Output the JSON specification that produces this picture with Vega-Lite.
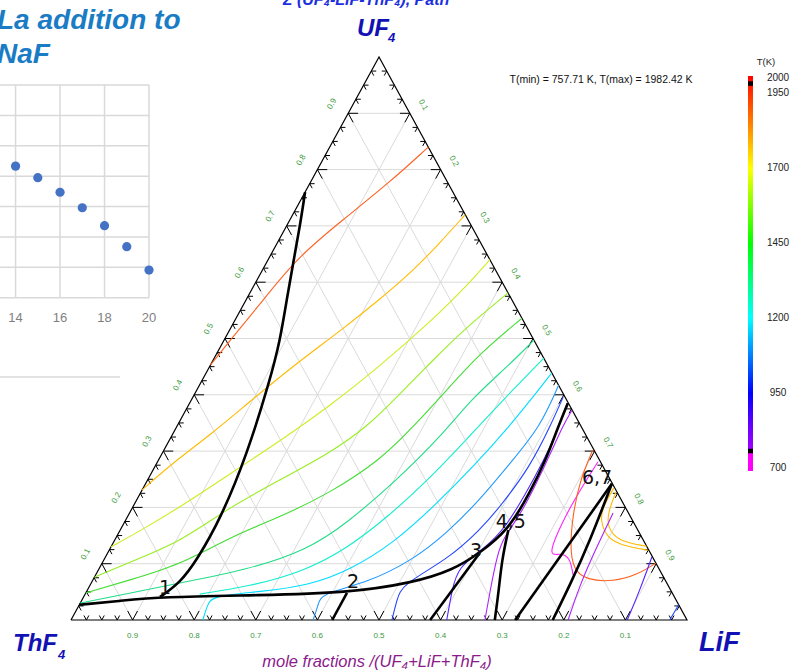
{
  "$schema": "https://vega.github.io/schema/vega-lite/v6.json",
  "width": 792,
  "height": 672,
  "padding": 0,
  "autosize": {"type": "none"},
  "background": "white",
  "config": {"view": {"stroke": null}, "font": "Liberation Sans"},
  "datasets": {
    "grid": [{"v":0.1},{"v":0.2},{"v":0.3},{"v":0.4},{"v":0.5},{"v":0.6},{"v":0.7},{"v":0.8},{"v":0.9}],
    "ticks": [{"v":0.025},{"v":0.05},{"v":0.075},{"v":0.1},{"v":0.125},{"v":0.15},{"v":0.175},{"v":0.2},{"v":0.225},{"v":0.25},{"v":0.275},{"v":0.3},{"v":0.325},{"v":0.35},{"v":0.375},{"v":0.4},{"v":0.425},{"v":0.45},{"v":0.475},{"v":0.5},{"v":0.525},{"v":0.55},{"v":0.575},{"v":0.6},{"v":0.625},{"v":0.65},{"v":0.675},{"v":0.7},{"v":0.725},{"v":0.75},{"v":0.775},{"v":0.8},{"v":0.825},{"v":0.85},{"v":0.875},{"v":0.9},{"v":0.925},{"v":0.95},{"v":0.975}],
    "frame": [{"o":0,"UF4":0,"LiF":0},{"o":1,"UF4":0,"LiF":1},{"o":2,"UF4":1,"LiF":0},{"o":3,"UF4":0,"LiF":0}],
    "iso": [
      {"k":"i19","T":1900,"o":1,"UF4":0.453,"LiF":0},{"k":"i19","T":1900,"o":2,"UF4":0.497,"LiF":0.010},{"k":"i19","T":1900,"o":3,"UF4":0.568,"LiF":0.028},{"k":"i19","T":1900,"o":4,"UF4":0.643,"LiF":0.045},{"k":"i19","T":1900,"o":5,"UF4":0.711,"LiF":0.086},{"k":"i19","T":1900,"o":6,"UF4":0.778,"LiF":0.129},{"k":"i19","T":1900,"o":7,"UF4":0.840,"LiF":0.160},
      {"k":"i18","T":1800,"o":1,"UF4":0.231,"LiF":0},{"k":"i18","T":1800,"o":2,"UF4":0.275,"LiF":0.023},{"k":"i18","T":1800,"o":3,"UF4":0.332,"LiF":0.064},{"k":"i18","T":1800,"o":4,"UF4":0.393,"LiF":0.099},{"k":"i18","T":1800,"o":5,"UF4":0.457,"LiF":0.139},{"k":"i18","T":1800,"o":6,"UF4":0.513,"LiF":0.180},{"k":"i18","T":1800,"o":7,"UF4":0.570,"LiF":0.217},{"k":"i18","T":1800,"o":8,"UF4":0.620,"LiF":0.245},{"k":"i18","T":1800,"o":9,"UF4":0.670,"LiF":0.264},{"k":"i18","T":1800,"o":10,"UF4":0.720,"LiF":0.280},
      {"k":"i17","T":1700,"o":1,"UF4":0.130,"LiF":0},{"k":"i17","T":1700,"o":2,"UF4":0.158,"LiF":0.033},{"k":"i17","T":1700,"o":3,"UF4":0.201,"LiF":0.077},{"k":"i17","T":1700,"o":4,"UF4":0.259,"LiF":0.128},{"k":"i17","T":1700,"o":5,"UF4":0.318,"LiF":0.180},{"k":"i17","T":1700,"o":6,"UF4":0.380,"LiF":0.230},{"k":"i17","T":1700,"o":7,"UF4":0.451,"LiF":0.276},{"k":"i17","T":1700,"o":8,"UF4":0.529,"LiF":0.318},{"k":"i17","T":1700,"o":9,"UF4":0.586,"LiF":0.343},{"k":"i17","T":1700,"o":10,"UF4":0.640,"LiF":0.360},
      {"k":"i16","T":1600,"o":1,"UF4":0.076,"LiF":0},{"k":"i16","T":1600,"o":2,"UF4":0.107,"LiF":0.051},{"k":"i16","T":1600,"o":3,"UF4":0.139,"LiF":0.108},{"k":"i16","T":1600,"o":4,"UF4":0.201,"LiF":0.158},{"k":"i16","T":1600,"o":5,"UF4":0.249,"LiF":0.215},{"k":"i16","T":1600,"o":6,"UF4":0.297,"LiF":0.272},{"k":"i16","T":1600,"o":7,"UF4":0.343,"LiF":0.309},{"k":"i16","T":1600,"o":8,"UF4":0.396,"LiF":0.331},{"k":"i16","T":1600,"o":9,"UF4":0.457,"LiF":0.355},{"k":"i16","T":1600,"o":10,"UF4":0.515,"LiF":0.379},{"k":"i16","T":1600,"o":11,"UF4":0.581,"LiF":0.419},
      {"k":"i15","T":1500,"o":1,"UF4":0.048,"LiF":0},{"k":"i15","T":1500,"o":2,"UF4":0.071,"LiF":0.060},{"k":"i15","T":1500,"o":3,"UF4":0.098,"LiF":0.128},{"k":"i15","T":1500,"o":4,"UF4":0.147,"LiF":0.184},{"k":"i15","T":1500,"o":5,"UF4":0.183,"LiF":0.248},{"k":"i15","T":1500,"o":6,"UF4":0.226,"LiF":0.308},{"k":"i15","T":1500,"o":7,"UF4":0.284,"LiF":0.360},{"k":"i15","T":1500,"o":8,"UF4":0.343,"LiF":0.384},{"k":"i15","T":1500,"o":9,"UF4":0.409,"LiF":0.406},{"k":"i15","T":1500,"o":10,"UF4":0.474,"LiF":0.427},{"k":"i15","T":1500,"o":11,"UF4":0.536,"LiF":0.464},
      {"k":"i14","T":1400,"o":1,"UF4":0.030,"LiF":0},{"k":"i14","T":1400,"o":2,"UF4":0.044,"LiF":0.057},{"k":"i14","T":1400,"o":3,"UF4":0.066,"LiF":0.144},{"k":"i14","T":1400,"o":4,"UF4":0.089,"LiF":0.241},{"k":"i14","T":1400,"o":5,"UF4":0.124,"LiF":0.321},{"k":"i14","T":1400,"o":6,"UF4":0.172,"LiF":0.362},{"k":"i14","T":1400,"o":7,"UF4":0.249,"LiF":0.405},{"k":"i14","T":1400,"o":8,"UF4":0.325,"LiF":0.437},{"k":"i14","T":1400,"o":9,"UF4":0.396,"LiF":0.455},{"k":"i14","T":1400,"o":10,"UF4":0.449,"LiF":0.483},{"k":"i14","T":1400,"o":11,"UF4":0.497,"LiF":0.503},
      {"k":"i13","T":1300,"o":1,"UF4":0.046,"LiF":0.186},{"k":"i13","T":1300,"o":2,"UF4":0.060,"LiF":0.260},{"k":"i13","T":1300,"o":3,"UF4":0.084,"LiF":0.330},{"k":"i13","T":1300,"o":4,"UF4":0.124,"LiF":0.383},{"k":"i13","T":1300,"o":5,"UF4":0.187,"LiF":0.425},{"k":"i13","T":1300,"o":6,"UF4":0.252,"LiF":0.457},{"k":"i13","T":1300,"o":7,"UF4":0.327,"LiF":0.484},{"k":"i13","T":1300,"o":8,"UF4":0.394,"LiF":0.507},{"k":"i13","T":1300,"o":9,"UF4":0.465,"LiF":0.535},
      {"k":"i12","T":1200,"o":1,"UF4":0,"LiF":0.214},{"k":"i12","T":1200,"o":2,"UF4":0.027,"LiF":0.208},{"k":"i12","T":1200,"o":3,"UF4":0.043,"LiF":0.208},{"k":"i12","T":1200,"o":4,"UF4":0.050,"LiF":0.282},{"k":"i12","T":1200,"o":5,"UF4":0.062,"LiF":0.357},{"k":"i12","T":1200,"o":6,"UF4":0.089,"LiF":0.409},{"k":"i12","T":1200,"o":7,"UF4":0.139,"LiF":0.457},{"k":"i12","T":1200,"o":8,"UF4":0.204,"LiF":0.489},{"k":"i12","T":1200,"o":9,"UF4":0.275,"LiF":0.518},{"k":"i12","T":1200,"o":10,"UF4":0.346,"LiF":0.540},{"k":"i12","T":1200,"o":11,"UF4":0.400,"LiF":0.553},{"k":"i12","T":1200,"o":12,"UF4":0.439,"LiF":0.561},
      {"k":"i11","T":1100,"o":1,"UF4":0,"LiF":0.393},{"k":"i11","T":1100,"o":2,"UF4":0.027,"LiF":0.388},{"k":"i11","T":1100,"o":3,"UF4":0.047,"LiF":0.382},{"k":"i11","T":1100,"o":4,"UF4":0.066,"LiF":0.448},{"k":"i11","T":1100,"o":5,"UF4":0.107,"LiF":0.502},{"k":"i11","T":1100,"o":6,"UF4":0.155,"LiF":0.533},{"k":"i11","T":1100,"o":7,"UF4":0.213,"LiF":0.557},{"k":"i11","T":1100,"o":8,"UF4":0.284,"LiF":0.575},{"k":"i11","T":1100,"o":9,"UF4":0.343,"LiF":0.590},{"k":"i11","T":1100,"o":10,"UF4":0.417,"LiF":0.583},
      {"k":"i10","T":1000,"o":1,"UF4":0,"LiF":0.521},{"k":"i10","T":1000,"o":2,"UF4":0.036,"LiF":0.511},{"k":"i10","T":1000,"o":3,"UF4":0.063,"LiF":0.506},{"k":"i10","T":1000,"o":4,"UF4":0.107,"LiF":0.557},{"k":"i10","T":1000,"o":5,"UF4":0.160,"LiF":0.584},{"k":"i10","T":1000,"o":6,"UF4":0.201,"LiF":0.596},{"k":"i10","T":1000,"o":7,"UF4":0.272,"LiF":0.609},{"k":"i10","T":1000,"o":8,"UF4":0.343,"LiF":0.606},{"k":"i10","T":1000,"o":9,"UF4":0.396,"LiF":0.601},
      {"k":"i9","T":900,"o":1,"UF4":0,"LiF":0.610},{"k":"i9","T":900,"o":2,"UF4":0.053,"LiF":0.592},{"k":"i9","T":900,"o":3,"UF4":0.094,"LiF":0.581},{"k":"i9","T":900,"o":4,"UF4":0.128,"LiF":0.608},{"k":"i9","T":900,"o":5,"UF4":0.163,"LiF":0.623},{"k":"i9","T":900,"o":6,"UF4":0.222,"LiF":0.626},{"k":"i9","T":900,"o":7,"UF4":0.281,"LiF":0.626},{"k":"i9","T":900,"o":8,"UF4":0.334,"LiF":0.622},{"k":"i9","T":900,"o":9,"UF4":0.385,"LiF":0.613},
      {"k":"i8","T":800,"o":1,"UF4":0,"LiF":0.672},{"k":"i8","T":800,"o":2,"UF4":0.053,"LiF":0.654},{"k":"i8","T":800,"o":3,"UF4":0.116,"LiF":0.634},{"k":"i8","T":800,"o":4,"UF4":0.146,"LiF":0.629},{"k":"i8","T":800,"o":5,"UF4":0.187,"LiF":0.636},{"k":"i8","T":800,"o":6,"UF4":0.245,"LiF":0.634},{"k":"i8","T":800,"o":7,"UF4":0.302,"LiF":0.630},{"k":"i8","T":800,"o":8,"UF4":0.346,"LiF":0.626},{"k":"i8","T":800,"o":9,"UF4":0.373,"LiF":0.627},
      {"k":"m1","T":760,"o":1,"UF4":0.281,"LiF":0.715},{"k":"m1","T":760,"o":2,"UF4":0.231,"LiF":0.711},{"k":"m1","T":760,"o":3,"UF4":0.178,"LiF":0.710},{"k":"m1","T":760,"o":4,"UF4":0.112,"LiF":0.717},{"k":"m1","T":760,"o":5,"UF4":0.119,"LiF":0.734},{"k":"m1","T":760,"o":6,"UF4":0.112,"LiF":0.754},{"k":"m1","T":760,"o":7,"UF4":0.080,"LiF":0.775},
      {"k":"or","T":1900,"o":1,"UF4":0.302,"LiF":0.696},{"k":"or","T":1900,"o":2,"UF4":0.249,"LiF":0.702},{"k":"or","T":1900,"o":3,"UF4":0.190,"LiF":0.720},{"k":"or","T":1900,"o":4,"UF4":0.130,"LiF":0.745},{"k":"or","T":1900,"o":5,"UF4":0.089,"LiF":0.771},{"k":"or","T":1900,"o":6,"UF4":0.071,"LiF":0.802},{"k":"or","T":1900,"o":7,"UF4":0.068,"LiF":0.846},{"k":"or","T":1900,"o":8,"UF4":0.080,"LiF":0.879},{"k":"or","T":1900,"o":9,"UF4":0.101,"LiF":0.899},
      {"k":"y1","T":1800,"o":1,"UF4":0.235,"LiF":0.764},{"k":"y1","T":1800,"o":2,"UF4":0.201,"LiF":0.763},{"k":"y1","T":1800,"o":3,"UF4":0.178,"LiF":0.770},{"k":"y1","T":1800,"o":4,"UF4":0.147,"LiF":0.796},{"k":"y1","T":1800,"o":5,"UF4":0.133,"LiF":0.825},{"k":"y1","T":1800,"o":6,"UF4":0.124,"LiF":0.875},
      {"k":"y2","T":1800,"o":1,"UF4":0.227,"LiF":0.771},{"k":"y2","T":1800,"o":2,"UF4":0.192,"LiF":0.776},{"k":"y2","T":1800,"o":3,"UF4":0.165,"LiF":0.788},{"k":"y2","T":1800,"o":4,"UF4":0.140,"LiF":0.818},{"k":"y2","T":1800,"o":5,"UF4":0.131,"LiF":0.869},
      {"k":"v8b","T":800,"o":1,"UF4":0,"LiF":0.807},{"k":"v8b","T":800,"o":2,"UF4":0.062,"LiF":0.795},{"k":"v8b","T":800,"o":3,"UF4":0.124,"LiF":0.789},{"k":"v8b","T":800,"o":4,"UF4":0.190,"LiF":0.785},
      {"k":"b9b","T":900,"o":1,"UF4":0,"LiF":0.903},{"k":"b9b","T":900,"o":2,"UF4":0.053,"LiF":0.897},{"k":"b9b","T":900,"o":3,"UF4":0.112,"LiF":0.887},
      {"k":"b10b","T":1000,"o":1,"UF4":0,"LiF":0.972},{"k":"b10b","T":1000,"o":2,"UF4":0.027,"LiF":0.973}
    ],
    "bnd": [
      {"k":"b1","o":1,"UF4":0.027,"LiF":0},{"k":"b1","o":2,"UF4":0.034,"LiF":0.063},{"k":"b1","o":3,"UF4":0.041,"LiF":0.124},{"k":"b1","o":4,"UF4":0.044,"LiF":0.285},{"k":"b1","o":5,"UF4":0.048,"LiF":0.424},{"k":"b1","o":6,"UF4":0.066,"LiF":0.522},{"k":"b1","o":7,"UF4":0.089,"LiF":0.576},{"k":"b1","o":8,"UF4":0.119,"LiF":0.604},{"k":"b1","o":9,"UF4":0.160,"LiF":0.630},{"k":"b1","o":10,"UF4":0.226,"LiF":0.632},{"k":"b1","o":11,"UF4":0.290,"LiF":0.628},{"k":"b1","o":12,"UF4":0.338,"LiF":0.620},{"k":"b1","o":13,"UF4":0.385,"LiF":0.614},
      {"k":"b2","o":1,"UF4":0.041,"LiF":0.124},{"k":"b2","o":2,"UF4":0.066,"LiF":0.144},{"k":"b2","o":3,"UF4":0.107,"LiF":0.151},{"k":"b2","o":4,"UF4":0.178,"LiF":0.153},{"k":"b2","o":5,"UF4":0.293,"LiF":0.139},{"k":"b2","o":6,"UF4":0.426,"LiF":0.110},{"k":"b2","o":7,"UF4":0.497,"LiF":0.091},{"k":"b2","o":8,"UF4":0.568,"LiF":0.066},{"k":"b2","o":9,"UF4":0.639,"LiF":0.042},{"k":"b2","o":10,"UF4":0.702,"LiF":0.021},{"k":"b2","o":11,"UF4":0.760,"LiF":0},
      {"k":"b3","o":1,"UF4":0.048,"LiF":0.424},{"k":"b3","o":2,"UF4":0,"LiF":0.424},
      {"k":"b4","o":1,"UF4":0.119,"LiF":0.604},{"k":"b4","o":2,"UF4":0,"LiF":0.583},
      {"k":"b5","o":1,"UF4":0.160,"LiF":0.630},{"k":"b5","o":2,"UF4":0.107,"LiF":0.646},{"k":"b5","o":3,"UF4":0.053,"LiF":0.668},{"k":"b5","o":4,"UF4":0,"LiF":0.688},
      {"k":"b6","o":1,"UF4":0.242,"LiF":0.757},{"k":"b6","o":2,"UF4":0,"LiF":0.721},
      {"k":"b7","o":1,"UF4":0.242,"LiF":0.757},{"k":"b7","o":2,"UF4":0.142,"LiF":0.772},{"k":"b7","o":3,"UF4":0.062,"LiF":0.779},{"k":"b7","o":4,"UF4":0,"LiF":0.782}
    ],
    "pts": [
      {"lab":"1","UF4":0.057,"LiF":0.124},
      {"lab":"2","UF4":0.068,"LiF":0.424},
      {"lab":"3","UF4":0.123,"LiF":0.596},
      {"lab":"4,5","UF4":0.174,"LiF":0.627},
      {"lab":"6,7","UF4":0.252,"LiF":0.728}
    ],
    "scatter": [{"x":14,"y":4.33},{"x":15,"y":3.95},{"x":16,"y":3.47},{"x":17,"y":2.96},{"x":18,"y":2.37},{"x":19,"y":1.68},{"x":20,"y":0.91}]
  },
  "layer": [
    {
      "layer": [
        {"data": {"name": "grid"}, "transform": [{"calculate": "datum.v/2", "as": "X"}, {"calculate": "datum.v", "as": "Y"}, {"calculate": "1-datum.v/2", "as": "X2"}, {"calculate": "datum.v", "as": "Y2"}],
         "mark": {"type": "rule", "color": "#dadada", "strokeWidth": 1},
         "encoding": {"x": {"field": "X", "type": "quantitative", "scale": {"domain": [0, 1], "range": [71, 687], "zero": false, "nice": false}, "axis": null},
                      "y": {"field": "Y", "type": "quantitative", "scale": {"domain": [0, 1], "range": [620, 57], "zero": false, "nice": false}, "axis": null},
                      "x2": {"field": "X2"}, "y2": {"field": "Y2"}}},
        {"data": {"name": "grid"}, "transform": [{"calculate": "datum.v", "as": "X"}, {"calculate": "0", "as": "Y"}, {"calculate": "datum.v+(1-datum.v)/2", "as": "X2"}, {"calculate": "1-datum.v", "as": "Y2"}],
         "mark": {"type": "rule", "color": "#dadada", "strokeWidth": 1},
         "encoding": {"x": {"field": "X", "type": "quantitative", "axis": null}, "y": {"field": "Y", "type": "quantitative", "axis": null}, "x2": {"field": "X2"}, "y2": {"field": "Y2"}}},
        {"data": {"name": "grid"}, "transform": [{"calculate": "1-datum.v", "as": "X"}, {"calculate": "0", "as": "Y"}, {"calculate": "(1-datum.v)/2", "as": "X2"}, {"calculate": "1-datum.v", "as": "Y2"}],
         "mark": {"type": "rule", "color": "#dadada", "strokeWidth": 1},
         "encoding": {"x": {"field": "X", "type": "quantitative", "axis": null}, "y": {"field": "Y", "type": "quantitative", "axis": null}, "x2": {"field": "X2"}, "y2": {"field": "Y2"}}},
        {"data": {"name": "frame"}, "transform": [{"calculate": "datum.LiF+datum.UF4/2", "as": "X"}, {"calculate": "datum.UF4", "as": "Y"}],
         "mark": {"type": "line", "color": "black", "strokeWidth": 1.2},
         "encoding": {"x": {"field": "X", "type": "quantitative", "axis": null}, "y": {"field": "Y", "type": "quantitative", "axis": null}, "order": {"field": "o"}}},
        {"data": {"name": "ticks"}, "transform": [{"calculate": "abs(datum.v*10-round(datum.v*10))<0.001 ? 0.016 : 0.008", "as": "d"}, {"calculate": "datum.v", "as": "X"}, {"calculate": "0", "as": "Y"}, {"calculate": "datum.v+datum.d/2", "as": "X2"}, {"calculate": "datum.d", "as": "Y2"}],
         "mark": {"type": "rule", "color": "black", "strokeWidth": 1},
         "encoding": {"x": {"field": "X", "type": "quantitative", "axis": null}, "y": {"field": "Y", "type": "quantitative", "axis": null}, "x2": {"field": "X2"}, "y2": {"field": "Y2"}}},
        {"data": {"name": "ticks"}, "transform": [{"calculate": "abs(datum.v*10-round(datum.v*10))<0.001 ? 0.016 : 0.008", "as": "d"}, {"calculate": "datum.v", "as": "X"}, {"calculate": "0", "as": "Y"}, {"calculate": "datum.v-datum.d/2", "as": "X2"}, {"calculate": "datum.d", "as": "Y2"}],
         "mark": {"type": "rule", "color": "black", "strokeWidth": 1},
         "encoding": {"x": {"field": "X", "type": "quantitative", "axis": null}, "y": {"field": "Y", "type": "quantitative", "axis": null}, "x2": {"field": "X2"}, "y2": {"field": "Y2"}}},
        {"data": {"name": "ticks"}, "transform": [{"calculate": "abs(datum.v*10-round(datum.v*10))<0.001 ? 0.016 : 0.008", "as": "d"}, {"calculate": "datum.v/2", "as": "X"}, {"calculate": "datum.v", "as": "Y"}, {"calculate": "datum.v/2+datum.d", "as": "X2"}, {"calculate": "datum.v", "as": "Y2"}],
         "mark": {"type": "rule", "color": "black", "strokeWidth": 1},
         "encoding": {"x": {"field": "X", "type": "quantitative", "axis": null}, "y": {"field": "Y", "type": "quantitative", "axis": null}, "x2": {"field": "X2"}, "y2": {"field": "Y2"}}},
        {"data": {"name": "ticks"}, "transform": [{"calculate": "abs(datum.v*10-round(datum.v*10))<0.001 ? 0.016 : 0.008", "as": "d"}, {"calculate": "datum.v/2", "as": "X"}, {"calculate": "datum.v", "as": "Y"}, {"calculate": "datum.d+(datum.v-datum.d)/2", "as": "X2"}, {"calculate": "datum.v-datum.d", "as": "Y2"}],
         "mark": {"type": "rule", "color": "black", "strokeWidth": 1},
         "encoding": {"x": {"field": "X", "type": "quantitative", "axis": null}, "y": {"field": "Y", "type": "quantitative", "axis": null}, "x2": {"field": "X2"}, "y2": {"field": "Y2"}}},
        {"data": {"name": "ticks"}, "transform": [{"calculate": "abs(datum.v*10-round(datum.v*10))<0.001 ? 0.016 : 0.008", "as": "d"}, {"calculate": "1-datum.v/2", "as": "X"}, {"calculate": "datum.v", "as": "Y"}, {"calculate": "1-datum.v/2-datum.d", "as": "X2"}, {"calculate": "datum.v", "as": "Y2"}],
         "mark": {"type": "rule", "color": "black", "strokeWidth": 1},
         "encoding": {"x": {"field": "X", "type": "quantitative", "axis": null}, "y": {"field": "Y", "type": "quantitative", "axis": null}, "x2": {"field": "X2"}, "y2": {"field": "Y2"}}},
        {"data": {"name": "ticks"}, "transform": [{"calculate": "abs(datum.v*10-round(datum.v*10))<0.001 ? 0.016 : 0.008", "as": "d"}, {"calculate": "1-datum.v/2", "as": "X"}, {"calculate": "datum.v", "as": "Y"}, {"calculate": "1-datum.v/2-datum.d/2", "as": "X2"}, {"calculate": "datum.v-datum.d", "as": "Y2"}],
         "mark": {"type": "rule", "color": "black", "strokeWidth": 1},
         "encoding": {"x": {"field": "X", "type": "quantitative", "axis": null}, "y": {"field": "Y", "type": "quantitative", "axis": null}, "x2": {"field": "X2"}, "y2": {"field": "Y2"}}},
        {"data": {"name": "iso"}, "transform": [{"calculate": "datum.LiF+datum.UF4/2", "as": "X"}, {"calculate": "datum.UF4", "as": "Y"}],
         "mark": {"type": "line", "strokeWidth": 1.1, "interpolate": "basis"},
         "encoding": {"x": {"field": "X", "type": "quantitative", "axis": null}, "y": {"field": "Y", "type": "quantitative", "axis": null},
           "detail": {"field": "k"}, "order": {"field": "o"},
           "color": {"field": "T", "type": "quantitative", "legend": null,
             "scale": {"domain": [760, 800, 900, 1000, 1100, 1200, 1300, 1400, 1500, 1600, 1700, 1800, 1900],
                       "range": ["#ff22ff", "#aa22ff", "#5522ff", "#2244ff", "#2299ff", "#00ddff", "#11eecc", "#22dd88", "#44dd33", "#99ee22", "#ccee22", "#ffbb00", "#ff6020"]}}}},
        {"data": {"name": "bnd"}, "transform": [{"calculate": "datum.LiF+datum.UF4/2", "as": "X"}, {"calculate": "datum.UF4", "as": "Y"}],
         "mark": {"type": "line", "color": "black", "strokeWidth": 2.6, "interpolate": "basis"},
         "encoding": {"x": {"field": "X", "type": "quantitative", "axis": null}, "y": {"field": "Y", "type": "quantitative", "axis": null}, "detail": {"field": "k"}, "order": {"field": "o"}}},
        {"data": {"name": "pts"}, "transform": [{"calculate": "datum.LiF+datum.UF4/2", "as": "X"}, {"calculate": "datum.UF4", "as": "Y"}],
         "mark": {"type": "text", "font": "DejaVu Sans", "fontSize": 19, "color": "#111111", "align": "center", "baseline": "middle"},
         "encoding": {"x": {"field": "X", "type": "quantitative", "axis": null}, "y": {"field": "Y", "type": "quantitative", "axis": null}, "text": {"field": "lab"}}},
        {"data": {"name": "grid"}, "transform": [{"calculate": "1-datum.v", "as": "X"}, {"calculate": "0", "as": "Y"}],
         "mark": {"type": "text", "fontSize": 8, "color": "#3a9a3a", "align": "center", "baseline": "middle", "dy": 16},
         "encoding": {"x": {"field": "X", "type": "quantitative", "axis": null}, "y": {"field": "Y", "type": "quantitative", "axis": null}, "text": {"field": "v", "format": ".1f"}}},
        {"data": {"name": "grid"}, "transform": [{"calculate": "datum.v/2", "as": "X"}, {"calculate": "datum.v", "as": "Y"}],
         "mark": {"type": "text", "fontSize": 8, "color": "#3a9a3a", "align": "center", "baseline": "middle", "angle": -61, "dx": 0.5, "dy": -18.5},
         "encoding": {"x": {"field": "X", "type": "quantitative", "axis": null}, "y": {"field": "Y", "type": "quantitative", "axis": null}, "text": {"field": "v", "format": ".1f"}}},
        {"data": {"name": "grid"}, "transform": [{"calculate": "(1+datum.v)/2", "as": "X"}, {"calculate": "1-datum.v", "as": "Y"}],
         "mark": {"type": "text", "fontSize": 8, "color": "#3a9a3a", "align": "center", "baseline": "middle", "angle": 61, "dx": -0.8, "dy": -15.5},
         "encoding": {"x": {"field": "X", "type": "quantitative", "axis": null}, "y": {"field": "Y", "type": "quantitative", "axis": null}, "text": {"field": "v", "format": ".1f"}}},
        {"data": {"values": [{}]}, "mark": {"type": "text", "text": "UF", "fontSize": 24, "fontWeight": "bold", "fontStyle": "italic", "color": "#1212b4", "align": "left", "baseline": "alphabetic"},
         "encoding": {"x": {"datum": 0.4643, "type": "quantitative", "axis": null}, "y": {"datum": 1.0373, "type": "quantitative", "axis": null}}},
        {"data": {"values": [{}]}, "mark": {"type": "text", "text": "4", "fontSize": 13, "fontWeight": "bold", "fontStyle": "italic", "color": "#1212b4", "align": "left", "baseline": "alphabetic"},
         "encoding": {"x": {"datum": 0.5145, "type": "quantitative", "axis": null}, "y": {"datum": 1.0266, "type": "quantitative", "axis": null}}},
        {"data": {"values": [{}]}, "mark": {"type": "text", "text": "ThF", "fontSize": 24, "fontWeight": "bold", "fontStyle": "italic", "color": "#1212b4", "align": "left", "baseline": "alphabetic"},
         "encoding": {"x": {"datum": -0.0942, "type": "quantitative", "axis": null}, "y": {"datum": -0.0551, "type": "quantitative", "axis": null}}},
        {"data": {"values": [{}]}, "mark": {"type": "text", "text": "4", "fontSize": 13, "fontWeight": "bold", "fontStyle": "italic", "color": "#1212b4", "align": "left", "baseline": "alphabetic"},
         "encoding": {"x": {"datum": -0.0211, "type": "quantitative", "axis": null}, "y": {"datum": -0.0693, "type": "quantitative", "axis": null}}},
        {"data": {"values": [{}]}, "mark": {"type": "text", "text": "LiF", "fontSize": 27, "fontWeight": "bold", "fontStyle": "italic", "color": "#1212b4", "align": "left", "baseline": "alphabetic"},
         "encoding": {"x": {"datum": 1.0195, "type": "quantitative", "axis": null}, "y": {"datum": -0.0551, "type": "quantitative", "axis": null}}},
        {"data": {"values": [{}]}, "mark": {"type": "text", "text": "mole fractions /(UF₄+LiF+ThF₄)", "fontSize": 16.5, "fontStyle": "italic", "color": "#8b1a8b", "align": "center", "baseline": "alphabetic"},
         "encoding": {"x": {"datum": 0.4968, "type": "quantitative", "axis": null}, "y": {"datum": -0.0835, "type": "quantitative", "axis": null}}},
        {"data": {"values": [{}]}, "mark": {"type": "text", "text": "Σ (UF₄-LiF-ThF₄), Path", "fontSize": 16, "fontWeight": "bold", "fontStyle": "italic", "color": "#1c2fe0", "align": "left", "baseline": "alphabetic"},
         "encoding": {"x": {"datum": 0.3442, "type": "quantitative", "axis": null}, "y": {"datum": 1.0924, "type": "quantitative", "axis": null}}},
        {"data": {"values": [{}]}, "mark": {"type": "text", "text": "T(min) = 757.71 K, T(max) = 1982.42 K", "fontSize": 10.5, "color": "#111111", "align": "center", "baseline": "middle"},
         "encoding": {"x": {"datum": 0.8604, "type": "quantitative", "axis": null}, "y": {"datum": 0.9583, "type": "quantitative", "axis": null}}}
      ]
    },
    {
      "layer": [
        {"data": {"values": [{"y":0},{"y":1},{"y":2},{"y":3},{"y":4},{"y":5},{"y":6},{"y":7}]},
         "mark": {"type": "rule", "color": "#d9d9d9", "strokeWidth": 1.5},
         "encoding": {"x": {"datum": 13.3, "type": "quantitative", "scale": {"domain": [13.3, 20], "range": [0, 149], "zero": false, "nice": false}, "axis": null},
                      "x2": {"datum": 20},
                      "y": {"field": "y", "type": "quantitative", "scale": {"domain": [0, 7], "range": [297.7, 85], "zero": false, "nice": false}, "axis": null}}},
        {"data": {"values": [{"x":14},{"x":16},{"x":18},{"x":20}]},
         "mark": {"type": "rule", "color": "#d9d9d9", "strokeWidth": 1.5},
         "encoding": {"x": {"field": "x", "type": "quantitative", "axis": null}, "y": {"datum": 0, "type": "quantitative", "axis": null}, "y2": {"datum": 7}}},
        {"data": {"name": "scatter"}, "mark": {"type": "circle", "size": 85, "color": "#4472c4", "opacity": 1},
         "encoding": {"x": {"field": "x", "type": "quantitative", "axis": null}, "y": {"field": "y", "type": "quantitative", "axis": null}}},
        {"data": {"values": [{"x":14},{"x":16},{"x":18},{"x":20}]},
         "mark": {"type": "text", "fontSize": 13, "color": "#7f7f7f", "align": "center", "baseline": "middle"},
         "encoding": {"x": {"field": "x", "type": "quantitative", "axis": null}, "y": {"datum": -0.67, "type": "quantitative", "axis": null}, "text": {"field": "x"}}},
        {"data": {"values": [{}]}, "mark": {"type": "rule", "color": "#d9d9d9", "strokeWidth": 1.5},
         "encoding": {"x": {"datum": 13.3, "type": "quantitative", "axis": null}, "x2": {"datum": 18.7}, "y": {"datum": -2.61, "type": "quantitative", "axis": null}}},
        {"data": {"values": [{}]}, "mark": {"type": "text", "text": "La addition to", "fontSize": 28, "fontWeight": "bold", "fontStyle": "italic", "color": "#1a7cc4", "align": "left", "baseline": "alphabetic"},
         "encoding": {"x": {"datum": 13.165, "type": "quantitative", "axis": null}, "y": {"datum": 8.843, "type": "quantitative", "axis": null}}},
        {"data": {"values": [{}]}, "mark": {"type": "text", "text": "NaF", "fontSize": 28, "fontWeight": "bold", "fontStyle": "italic", "color": "#1a7cc4", "align": "left", "baseline": "alphabetic"},
         "encoding": {"x": {"datum": 13.165, "type": "quantitative", "axis": null}, "y": {"datum": 7.724, "type": "quantitative", "axis": null}}}
      ]
    },
    {
      "layer": [
        {"data": {"values": [{"lo": 691, "hi": 2008}]},
         "mark": {"type": "rect", "color": {"gradient": "linear", "x1": 0, "y1": 0, "x2": 0, "y2": 1,
           "stops": [
             {"offset": 0.0, "color": "#ff0000"}, {"offset": 0.044, "color": "#ff3000"}, {"offset": 0.135, "color": "#ff9000"},
             {"offset": 0.234, "color": "#ffff00"}, {"offset": 0.329, "color": "#80ff00"}, {"offset": 0.424, "color": "#00ff00"},
             {"offset": 0.519, "color": "#00ff80"}, {"offset": 0.613, "color": "#00ffff"}, {"offset": 0.708, "color": "#0080ff"},
             {"offset": 0.803, "color": "#0000ff"}, {"offset": 0.879, "color": "#6000ff"}, {"offset": 0.945, "color": "#a000ff"},
             {"offset": 0.952, "color": "#ff00ff"}, {"offset": 1.0, "color": "#ff00ff"}]}},
         "encoding": {"x": {"datum": 0, "type": "quantitative", "scale": {"domain": [0, 1], "range": [748, 753], "zero": false, "nice": false}, "axis": null},
                      "x2": {"datum": 1},
                      "y": {"field": "hi", "type": "quantitative", "scale": {"domain": [700, 2000], "range": [468.3, 78.3], "zero": false, "nice": false}, "axis": null},
                      "y2": {"field": "lo"}}},
        {"data": {"values": [{"T": 1982.42}, {"T": 757.71}]},
         "mark": {"type": "rule", "color": "black", "strokeWidth": 4.5},
         "encoding": {"x": {"datum": 0, "type": "quantitative", "axis": null}, "x2": {"datum": 1}, "y": {"field": "T", "type": "quantitative", "axis": null}}},
        {"data": {"values": [{"T": 2000}, {"T": 1950}, {"T": 1700}, {"T": 1450}, {"T": 1200}, {"T": 950}, {"T": 700}]},
         "mark": {"type": "text", "fontSize": 10, "color": "#222222", "align": "center", "baseline": "middle"},
         "encoding": {"x": {"datum": 6, "type": "quantitative", "axis": null}, "y": {"field": "T", "type": "quantitative", "axis": null}, "text": {"field": "T"}}},
        {"data": {"values": [{}]}, "mark": {"type": "text", "text": "T(K)", "fontSize": 9.5, "color": "#222222", "align": "center", "baseline": "middle"},
         "encoding": {"x": {"datum": 3.6, "type": "quantitative", "axis": null}, "y": {"datum": 2054, "type": "quantitative", "axis": null}}}
      ]
    }
  ],
  "resolve": {"scale": {"x": "independent", "y": "independent", "color": "independent"}}
}
